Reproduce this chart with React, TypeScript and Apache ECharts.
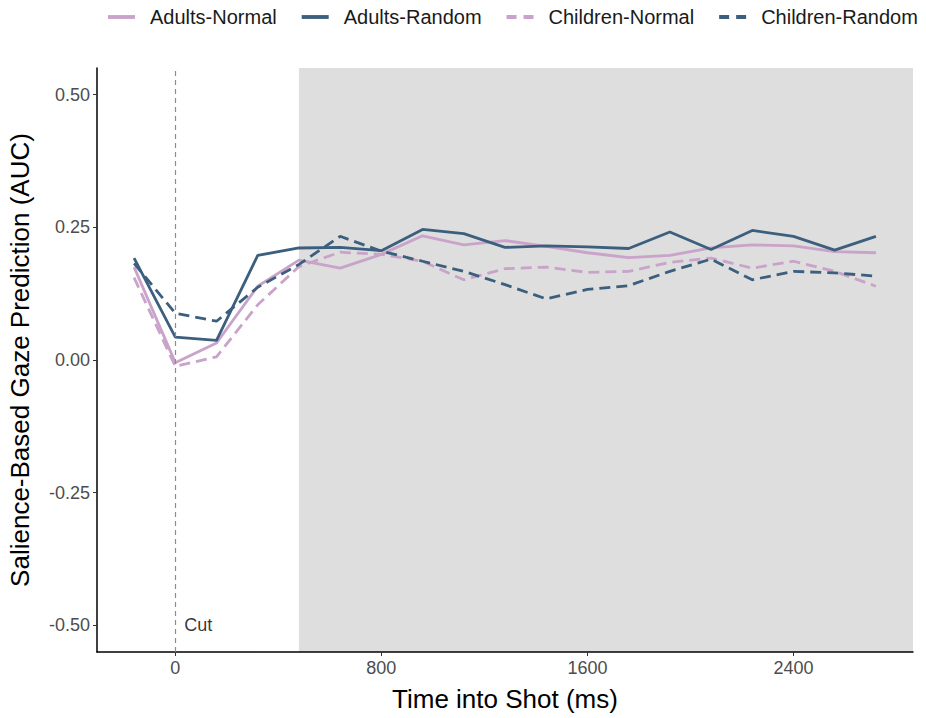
import React, { useEffect, useRef } from "react";
import * as echarts from "echarts";

const timesMs = [-160, 0, 160, 320, 480, 640, 800, 960, 1120, 1280, 1440, 1600, 1760, 1920, 2080, 2240, 2400, 2560, 2720];
const adultsNormal = [0.175, -0.005, 0.032, 0.139, 0.188, 0.173, 0.199, 0.234, 0.217, 0.225, 0.214, 0.202, 0.193, 0.197, 0.211, 0.217, 0.215, 0.204, 0.202];
const adultsRandom = [0.192, 0.043, 0.037, 0.197, 0.211, 0.212, 0.206, 0.246, 0.238, 0.212, 0.215, 0.213, 0.21, 0.241, 0.208, 0.244, 0.233, 0.207, 0.233];
const childrenNormal = [0.155, -0.012, 0.006, 0.104, 0.176, 0.203, 0.199, 0.186, 0.151, 0.172, 0.175, 0.165, 0.167, 0.184, 0.192, 0.173, 0.186, 0.167, 0.139];
const childrenRandom = [0.182, 0.088, 0.073, 0.137, 0.18, 0.233, 0.205, 0.186, 0.167, 0.142, 0.115, 0.133, 0.14, 0.167, 0.19, 0.151, 0.167, 0.164, 0.158];
const xTicks = [0, 800, 1600, 2400];
const yTicks = [-0.5, -0.25, 0, 0.25, 0.5];
const shadeStart = 480;
const cutTime = 0;

const PINK = "#c9a3c9";
const NAVY = "#3c5f7e";

function pairs(vals: number[]) {
  return timesMs.map((t, i) => [t, vals[i]]);
}

const SOLID_ICON = "path://M0,0H28V4H0Z";
const DASH_ICON = "path://M0,0H10V4H0Z M17,0H27V4H17Z";

export default function App() {
  const ref = useRef<HTMLDivElement>(null);
  useEffect(() => {
    if (!ref.current) return;
    const chart = echarts.init(ref.current, undefined, { renderer: "svg" });
    const xMin = -304;
    const xMax = 2864;
    const mkLine = (name: string, vals: number[], color: string, dashed: boolean, extra: any = {}) => ({
      name,
      type: "line",
      data: pairs(vals),
      symbol: "none",
      lineStyle: { color, width: 2.8, type: dashed ? [11, 6] : "solid" },
      itemStyle: { color },
      z: 3,
      ...extra,
    });
    chart.setOption({
      animation: false,
      textStyle: { fontFamily: "Liberation Sans, Arial, sans-serif" },
      legend: {
        top: 2,
        left: 103,
        itemWidth: 27,
        itemHeight: 4,
        itemGap: 25,
        textStyle: { fontSize: 20, color: "#1a1a1a", padding: [0, 0, 0, 10] },
        data: [
          { name: "Adults-Normal", icon: SOLID_ICON },
          { name: "Adults-Random", icon: SOLID_ICON },
          { name: "Children-Normal", icon: DASH_ICON },
          { name: "Children-Random", icon: DASH_ICON },
        ],
      },
      grid: { left: 97, right: 13, top: 68, bottom: 66, containLabel: false, outerBoundsMode: "none" },
      xAxis: {
        type: "value",
        min: xMin,
        max: xMax,
        name: "Time into Shot (ms)",
        nameLocation: "middle",
        nameGap: 34,
        nameTextStyle: { fontSize: 26, color: "#000" },
        axisLine: { show: true, onZero: false, lineStyle: { color: "#000", width: 1.5 } },
        axisTick: { show: true, length: 4, customValues: xTicks, lineStyle: { color: "#333" } },
        axisLabel: { customValues: xTicks, fontSize: 18, color: "#4d4d4d", margin: 7, formatter: (v: number) => String(v) },
        splitLine: { show: false },
      },
      yAxis: {
        type: "value",
        min: -0.55,
        max: 0.55,
        name: "Salience-Based Gaze Prediction (AUC)",
        nameLocation: "middle",
        nameGap: 64,
        nameTextStyle: { fontSize: 26, color: "#000" },
        axisLine: { show: true, onZero: false, lineStyle: { color: "#000", width: 1.5 } },
        axisTick: { show: true, length: 4, customValues: yTicks, lineStyle: { color: "#333" } },
        axisLabel: {
          customValues: yTicks,
          fontSize: 18,
          color: "#4d4d4d",
          margin: 7,
          formatter: (v: number) => v.toFixed(2),
        },
        splitLine: { show: false },
      },
      series: [
        mkLine("Adults-Normal", adultsNormal, PINK, false, {
          markArea: {
            silent: true,
            itemStyle: { color: "#dedede" },
            data: [[{ xAxis: shadeStart, yAxis: -0.55 }, { xAxis: xMax, yAxis: 0.55 }]],
            z: 0,
          },
        }),
        mkLine("Adults-Random", adultsRandom, NAVY, false),
        mkLine("Children-Normal", childrenNormal, PINK, true),
        mkLine("Children-Random", childrenRandom, NAVY, true, {
          markLine: {
            silent: true,
            symbol: "none",
            label: { show: false },
            lineStyle: { color: "#8c8c8c", type: [5, 4], width: 1.2 },
            data: [[{ coord: [cutTime, -0.55] }, { coord: [cutTime, 0.55] }]],
          },
        }),
        {
          name: "cutLabel",
          type: "scatter",
          data: [[cutTime, -0.5]],
          symbolSize: 0,
          silent: true,
          label: {
            show: true,
            formatter: "Cut",
            position: "right",
            distance: 9,
            fontSize: 18,
            color: "#000",
          },
          z: 4,
        },
      ],
    });
    return () => chart.dispose();
  }, []);
  return (
    <div
      ref={ref}
      style={{ position: "absolute", left: 0, top: 0, width: 926, height: 718, background: "#fff" }}
    />
  );
}
